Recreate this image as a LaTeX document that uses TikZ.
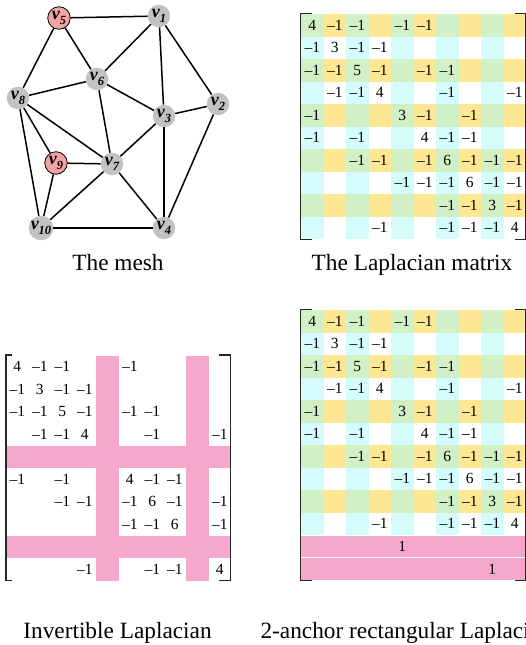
\documentclass[tikz,border=0pt]{standalone}
\usepackage{fontspec}
\setmainfont{Liberation Serif}
\usetikzlibrary{positioning}

\definecolor{cellgreen}{RGB}{210,240,197}
\definecolor{cellyellow}{RGB}{253,231,146}
\definecolor{cellcyan}{RGB}{212,252,252}
\definecolor{anchorpink}{RGB}{245,168,204}
\definecolor{vertgray}{RGB}{194,194,194}
\definecolor{vertpink}{RGB}{245,162,162}

% vertex label v_i
\newcommand{\vlab}[1]{v\raisebox{-0.28em}{\fontsize{12.5}{13}\selectfont#1}}
% nonzero entries of the Laplacian: row/col/value
\newcommand{\lapentries}{1/1/4,1/2/–1,1/3/–1,1/5/–1,1/6/–1,
  2/1/–1,2/2/3,2/3/–1,2/4/–1,
  3/1/–1,3/2/–1,3/3/5,3/4/–1,3/6/–1,3/7/–1,
  4/2/–1,4/3/–1,4/4/4,4/7/–1,4/10/–1,
  5/1/–1,5/5/3,5/6/–1,5/8/–1,
  6/1/–1,6/3/–1,6/6/4,6/7/–1,6/8/–1,
  7/3/–1,7/4/–1,7/6/–1,7/7/6,7/8/–1,7/9/–1,7/10/–1,
  8/5/–1,8/6/–1,8/7/–1,8/8/6,8/9/–1,8/10/–1,
  9/7/–1,9/8/–1,9/9/3,9/10/–1,
  10/4/–1,10/7/–1,10/8/–1,10/9/–1,10/10/4}

\begin{document}
\begin{tikzpicture}[x=1pt, y=-1pt,
  every node/.style={font=\fontsize{15.5}{18}\selectfont},
  vert/.style={circle, fill=vertgray, minimum size=22.5pt, inner sep=0pt,
               font=\fontsize{18}{20}\selectfont\bfseries\itshape},
  fixedvert/.style={vert, fill=vertpink, draw=black, line width=0.8pt},
  edge/.style={line width=1.5pt},
  entry/.style={inner sep=0pt},
  caption/.style={anchor=base, font=\fontsize{23.3}{26}\selectfont},
  bracket/.style={line width=1.1pt, draw=black!85}
]
  \useasboundingbox (0,0) rectangle (525,645);

  % the mesh
  \node[fixedvert] (v5)  at (59,18)   {\vlab{5}};
  \node[vert]      (v1)  at (159,16)  {\vlab{1}};
  \node[vert]      (v6)  at (97,79)   {\vlab{6}};
  \node[vert]      (v8)  at (18,98)   {\vlab{8}};
  \node[vert]      (v2)  at (218,104) {\vlab{2}};
  \node[vert]      (v3)  at (164,116) {\vlab{3}};
  \node[fixedvert] (v9)  at (56,163)  {\vlab{9}};
  \node[vert]      (v7)  at (112,164) {\vlab{7}};
  \node[vert]      (v10) at (41,228)  {\vlab{10}};
  \node[vert]      (v4)  at (164,228) {\vlab{4}};

  \foreach \a/\b in {v5/v1,v5/v6,v5/v8,v1/v6,v1/v3,v1/v2,v6/v8,v6/v3,v6/v7,
                     v3/v2,v3/v7,v3/v4,v2/v4,v8/v9,v8/v7,v8/v10,v9/v7,v9/v10,
                     v7/v10,v7/v4,v10/v4}
    \draw[edge] (\a) -- (\b);

  \node[caption] (capmesh) at (118,270) {The mesh};

  % the Laplacian matrix
  \foreach \r in {1,3,...,9}
    \fill[cellyellow] (301,{14+22.5*(\r-1)}) rectangle ++(225,22.5);
  \foreach \c in {1,3,...,9}
    \fill[cellcyan] ({301+22.5*(\c-1)},14) rectangle ++(22.5,225);
  \foreach \r in {1,3,...,9}
    \foreach \c in {1,3,...,9}
      \fill[cellgreen] ({301+22.5*(\c-1)},{14+22.5*(\r-1)}) rectangle ++(22.5,22.5);
  \foreach \r/\c/\v in \lapentries
    \node[entry] (lap-\r-\c) at ({301+22.5*(\c-0.5)},{14+22.5*(\r-0.5)}) {\v};
  \draw[bracket] (312,13.5) -- (300.5,13.5) -- (300.5,239.5) -- (312,239.5);
  \draw[bracket] (515,13.5) -- (526,13.5) -- (526,239.5) -- (515,239.5);

  \node[caption] (caplap) at (412,270) {The Laplacian matrix};

  % invertible Laplacian
  \foreach \r/\c/\v in \lapentries {
    \pgfmathtruncatemacro\keep{(\r!=5)&&(\r!=9)&&(\c!=5)&&(\c!=9)}
    \ifnum\keep=1
      \node[entry] (inv-\r-\c) at ({6+22.5*(\c-0.5)},{355.5+22.5*(\r-0.5)}) {\v};
    \fi
  }
  \foreach \k in {5,9} {
    \fill[anchorpink] (6,{355.5+22.5*(\k-1)}) rectangle ++(225,22.5);
    \fill[anchorpink] ({6+22.5*(\k-1)},355.5) rectangle ++(22.5,225);
  }
  \draw[bracket] (12,355) -- (6,355) -- (6,580.5) -- (12,580.5);
  \draw[bracket] (219,355) -- (230.5,355) -- (230.5,580.5) -- (219,580.5);

  \node[caption] (capinv) at (117.5,638) {Invertible Laplacian};

  % 2-anchor rectangular Laplacian
  \foreach \r in {1,3,...,9}
    \fill[cellyellow] (301,{310+22.5*(\r-1)}) rectangle ++(225,22.5);
  \foreach \c in {1,3,...,9}
    \fill[cellcyan] ({301+22.5*(\c-1)},310) rectangle ++(22.5,225);
  \foreach \r in {1,3,...,9}
    \foreach \c in {1,3,...,9}
      \fill[cellgreen] ({301+22.5*(\c-1)},{310+22.5*(\r-1)}) rectangle ++(22.5,22.5);
  \foreach \r/\c/\v in \lapentries
    \node[entry] (rect-\r-\c) at ({301+22.5*(\c-0.5)},{310+22.5*(\r-0.5)}) {\v};
  \fill[anchorpink] (301,535.5) rectangle (526,557.2);
  \fill[anchorpink] (301,558.2) rectangle (526,580);
  \node[entry] (rect-11-5) at (402.25,546.5) {1};
  \node[entry] (rect-12-9) at (492.25,569) {1};
  \draw[bracket] (312,309.5) -- (300.5,309.5) -- (300.5,580.5) -- (312,580.5);
  \draw[bracket] (515,309.5) -- (526,309.5) -- (526,580.5) -- (515,580.5);

  \node[caption, anchor=base west] (caprect) at (257,638) {2-anchor rectangular Laplacian};
\end{tikzpicture}
\end{document}
